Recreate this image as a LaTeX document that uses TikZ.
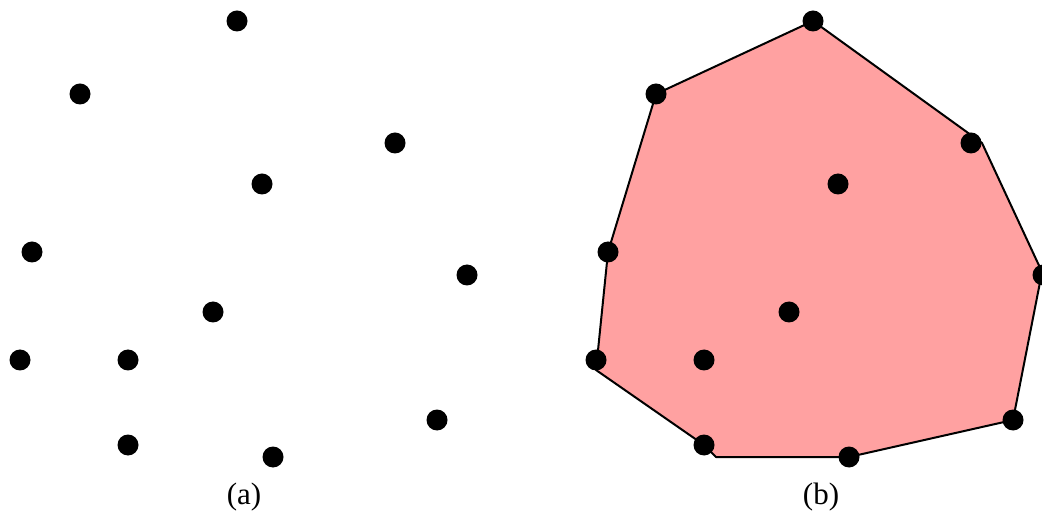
\documentclass[tikz,border=0pt]{standalone}
\usepackage{fontspec}
\setmainfont{Liberation Serif}
\usetikzlibrary{positioning,calc,backgrounds}
\definecolor{hullpink}{HTML}{FFA1A1}
\tikzset{
  pt/.style     = {circle, fill=black, minimum size=10.5pt, inner sep=0pt},
  hull/.style   = {draw=black, line width=1pt, fill=hullpink, line join=round},
  sublbl/.style = {font=\fontsize{15.5}{18}\selectfont, inner sep=0pt},
}

\begin{document}
\begin{tikzpicture}[x=0.5pt,y=-0.5pt]
  \useasboundingbox (0,0) rectangle (1042,512);
  % the same point set, left plain and right with its hull
  \foreach \n/\x/\y in {1/237/21, 2/80/94, 3/395/143, 4/262/184, 5/32/252,
      6/467/275, 7/213/312, 8/20/360, 9/128/360, 10/437/420, 11/128/445,
      12/273/457}{
    \node[pt] (a\n) at (\x,\y) {};
    \node[pt] (b\n) at (\x+576,\y) {};
  }
  \begin{scope}[on background layer]
    \draw[hull] (b1.center) -- ($(b3.center)+(11,0)$) -- ($(b6.center)+(-1,-3)$)
      -- (b10.center) -- (b12.center) -- ($(b11.center)+(12,12)$)
      -- (b11.center) -- ($(b8.center)+(0,10)$) -- (b5.center)
      -- (b2.center) -- cycle;
  \end{scope}
  \node[sublbl] (capa) at (244,497) {(a)};
  \node[sublbl] (capb) at (821,497) {(b)};
\end{tikzpicture}
\end{document}
